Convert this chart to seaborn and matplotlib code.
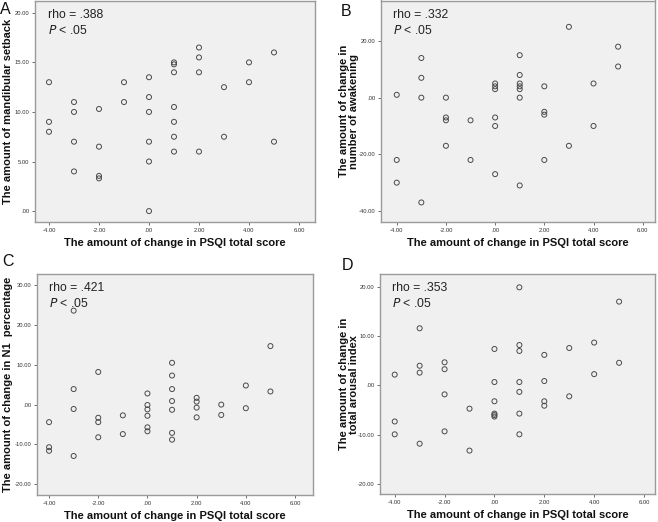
import matplotlib
matplotlib.use("Agg")
import matplotlib.pyplot as plt
import seaborn as sns
import numpy as np
import pandas as pd
from matplotlib.ticker import FuncFormatter

sns.set_theme(style="white")
plt.rcParams['font.family'] = ['Liberation Sans', 'DejaVu Sans']

# ---------------- data ----------------
psqi_x = [-4, -4, -4,
          -3, -3, -3, -3,
          -2, -2, -2, -2,
          -1, -1,
          0, 0, 0, 0, 0, 0,
          1, 1, 1, 1, 1, 1, 1,
          2, 2, 2, 2,
          3, 3,
          4, 4,
          5, 5]

mandibular_setback = [13, 9, 8,
                      11, 10, 7, 4,
                      10.3, 6.5, 3.55, 3.3,
                      13, 11,
                      13.5, 11.5, 10, 7, 5, 0,
                      15, 14.8, 14, 10.5, 9, 7.5, 6,
                      16.5, 15.5, 14, 6,
                      12.5, 7.5,
                      15, 13,
                      16, 7]

awakening_change = [1, -22, -30,
                    14, 7, 0, -37,
                    0, -7, -8, -17,
                    -8, -22,
                    5, 4, 3, -7, -10, -27,
                    15, 8, 5, 4, 3, 0, -31,
                    4, -5, -6, -22,
                    25, -17,
                    5, -10,
                    18, 11]

n1_change = [-4.4, -10.7, -11.6,
             23.6, 3.9, -1.1, -12.9,
             8.2, -3.3, -4.4, -8.2,
             -2.7, -7.4,
             2.8, -0.1, -1.2, -2.8, -5.7, -6.7,
             10.5, 7.3, 3.9, 0.9, -1.3, -7.1, -8.8,
             1.7, 0.75, -0.75, -3.2,
             0.0, -2.6,
             4.8, -0.9,
             14.7, 3.3]

arousal_change = [2.2, -7.3, -9.9,
                  11.6, 4.0, 2.6, -11.8,
                  4.7, 3.3, -1.8, -9.3,
                  -4.7, -13.2,
                  7.4, 0.7, -3.2, -5.7, -6.0, -6.3,
                  19.9, 8.2, 7.0, 0.7, -1.3, -5.7, -9.9,
                  6.2, 0.9, -3.2, -4.1,
                  7.6, -2.2,
                  8.7, 2.3,
                  17.0, 4.6]

panel_letters = ["A", "B", "C", "D"]
rho_texts = ["rho = .388", "rho = .332", "rho = .421", "rho = .353"]
xlabel = "The amount of change in PSQI total score"
ylabels = ["The amount of mandibular setback",
           "The amount of change in\nnumber of awakening",
           "The amount of change in N1  percentage",
           "The amount of change in\ntotal arousal index"]
x_ticks = [-4, -2, 0, 2, 4, 6]
y_ticks = [[0, 5, 10, 15, 20],
           [-40, -20, 0, 20],
           [-20, -10, 0, 10, 20, 30],
           [-20, -10, 0, 10, 20]]
series = [mandibular_setback, awakening_change, n1_change, arousal_change]

# ---------------- layout ----------------
W, H = 658, 522
fig = plt.figure(figsize=(W / 100, H / 100), dpi=100)
fig.patch.set_facecolor("white")

# axes boxes in pixel coords: left, top, right, bottom
boxes = [(35, 0.5, 315, 222), (381, 0.5, 655, 222), (37, 274, 313, 495), (380, 274, 655, 494)]
xlims = [(-4.56, 6.64), (-4.64, 6.5), (-4.49, 6.73), (-4.59, 6.44)]
ylims = [(-1.1, 21.24), (-43.9, 34.3), (-22.7, 32.8), (-22.0, 22.6)]
letter_pos = [(0, 2), (341, 4), (2, 254), (342, 258)]
ylabel_x_px = [8, 349, 8, 349]   # centre of the y label, figure pixels


def spss_fmt(v, pos):
    s = "%.2f" % v
    if s.startswith("0."):
        s = s[1:]
    elif s.startswith("-0."):
        s = "-" + s[2:]
    if s == "-.00":
        s = ".00"
    return s


for i in range(4):
    l, t, r, b = boxes[i]
    ax = fig.add_axes([l / W, 1 - b / H, (r - l) / W, (b - t) / H])
    ax.set_facecolor("#f0f0f0")
    df = pd.DataFrame({"x": psqi_x, "y": series[i]})
    sns.scatterplot(data=df, x="x", y="y", ax=ax, marker="o", s=13,
                    facecolor="none", edgecolor="#4a4a4a", linewidth=0.7,
                    legend=False)
    ax.set_xlim(*xlims[i])
    ax.set_ylim(*ylims[i])
    ax.set_xticks(x_ticks)
    ax.set_yticks(y_ticks[i])
    ax.xaxis.set_major_formatter(FuncFormatter(spss_fmt))
    ax.yaxis.set_major_formatter(FuncFormatter(spss_fmt))
    ax.tick_params(axis="both", which="major", labelsize=4.2, length=2.5,
                   width=0.6, color="#555555", labelcolor="#333333", pad=1.5,
                   direction="out", bottom=True, left=True)
    for sp in ax.spines.values():
        sp.set_color("#9a9a9a")
        sp.set_linewidth(1.0)
    ax.set_xlabel(xlabel, fontsize=8, fontweight="bold", color="#111111", labelpad=4)
    ax.set_ylabel(ylabels[i], fontsize=8, fontweight="bold", color="#111111",
                  linespacing=1.05, va="center", ha="center")
    ax.yaxis.set_label_coords((ylabel_x_px[i] - l) / (r - l), 0.5)
    ax.text(0.045, 0.962, rho_texts[i], transform=ax.transAxes, fontsize=8.8,
            va="top", ha="left", color="#222222")
    ax.text(0.045, 0.895, "$P$ < .05", transform=ax.transAxes, fontsize=8.8,
            va="top", ha="left", color="#222222")
    ax.grid(False)
    lx, ly = letter_pos[i]
    fig.text(lx / W, 1 - ly / H, panel_letters[i], fontsize=11.5, va="top",
             ha="left", color="#111111")

fig.savefig("out.png", dpi=100, facecolor="white")
